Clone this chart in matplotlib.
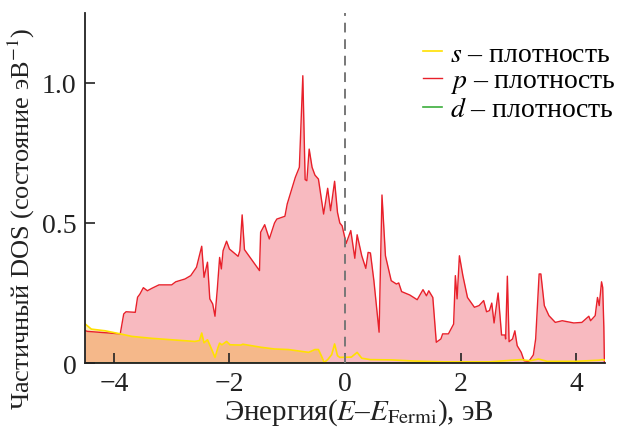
import matplotlib
matplotlib.use('Agg')
import matplotlib.pyplot as plt
import numpy as np

plt.rcParams['font.family'] = ['Liberation Serif', 'DejaVu Serif']
plt.rcParams['mathtext.fontset'] = 'stix'

# p-состояния
p_energy = [-4.50, -4.46, -4.15, -3.89, -3.83, -3.79, -3.72, -3.63, -3.59, -3.55,
            -3.49, -3.42, -3.34, -3.22, -3.00, -2.93, -2.77, -2.67, -2.57, -2.48,
            -2.44, -2.38, -2.34, -2.29, -2.25, -2.21, -2.17, -2.14, -2.11, -2.05,
            -2.00, -1.85, -1.82, -1.78, -1.74, -1.48, -1.46, -1.39, -1.31, -1.22,
            -1.18, -1.04, -1.00, -0.93, -0.86, -0.79, -0.73, -0.69, -0.66, -0.62,
            -0.57, -0.52, -0.46, -0.37, -0.30, -0.25, -0.18, -0.13, -0.09, -0.05,
            0.02, 0.10, 0.17, 0.21, 0.29, 0.36, 0.40, 0.44, 0.50, 0.59,
            0.64, 0.70, 0.80, 0.89, 0.93, 0.98, 1.12, 1.25, 1.35, 1.41,
            1.45, 1.52, 1.58, 1.66, 1.69, 1.79, 1.88, 1.91, 1.94, 1.98,
            2.04, 2.12, 2.24, 2.32, 2.40, 2.45, 2.50, 2.54, 2.58, 2.65,
            2.71, 2.77, 2.78, 2.81, 2.84, 2.90, 2.94, 2.98, 3.05, 3.10,
            3.18, 3.26, 3.30, 3.36, 3.39, 3.45, 3.53, 3.64, 3.76, 3.96,
            4.10, 4.22, 4.25, 4.33, 4.37, 4.40, 4.44, 4.46, 4.48, 4.49]
p_dos = [0.116, 0.113, 0.108, 0.104, 0.175, 0.183, 0.182, 0.181, 0.235, 0.246,
         0.269, 0.258, 0.267, 0.279, 0.279, 0.290, 0.300, 0.312, 0.342, 0.417,
         0.306, 0.360, 0.229, 0.211, 0.167, 0.264, 0.377, 0.336, 0.401, 0.435,
         0.407, 0.381, 0.401, 0.529, 0.405, 0.330, 0.467, 0.494, 0.443, 0.500,
         0.514, 0.524, 0.568, 0.615, 0.663, 0.699, 1.026, 0.655, 0.651, 0.764,
         0.699, 0.671, 0.657, 0.532, 0.624, 0.544, 0.649, 0.538, 0.500, 0.490,
         0.427, 0.473, 0.374, 0.458, 0.383, 0.338, 0.395, 0.393, 0.294, 0.110,
         0.600, 0.383, 0.294, 0.282, 0.286, 0.255, 0.243, 0.226, 0.262, 0.240,
         0.258, 0.234, 0.074, 0.086, 0.104, 0.104, 0.139, 0.312, 0.229, 0.383,
         0.312, 0.234, 0.199, 0.205, 0.223, 0.183, 0.187, 0.214, 0.143, 0.250,
         0.100, 0.100, 0.086, 0.310, 0.076, 0.086, 0.115, 0.062, 0.038, 0.008,
         0.005, 0.029, 0.086, 0.318, 0.318, 0.205, 0.169, 0.145, 0.151, 0.143,
         0.145, 0.167, 0.151, 0.169, 0.234, 0.205, 0.290, 0.270, 0.128, 0.000]

# s-состояния
s_energy = [-4.50, -4.46, -4.39, -4.15, -3.89, -3.69, -3.34, -2.94, -2.60, -2.52,
            -2.48, -2.44, -2.38, -2.31, -2.25, -2.20, -2.17, -2.13, -2.05, -1.99,
            -1.80, -1.77, -1.45, -1.22, -0.98, -0.63, -0.52, -0.46, -0.41, -0.36,
            -0.30, -0.23, -0.18, -0.13, -0.09, 0.11, 0.21, 0.29, 0.44, 0.80,
            1.20, 1.72, 2.50, 2.90, 3.05, 3.20, 3.35, 3.50, 4.00, 4.40,
            4.45, 4.50]
s_dos = [0.140, 0.133, 0.121, 0.115, 0.104, 0.095, 0.088, 0.082, 0.077, 0.080,
         0.107, 0.072, 0.083, 0.050, 0.020, 0.054, 0.071, 0.065, 0.077, 0.065,
         0.064, 0.067, 0.056, 0.050, 0.048, 0.038, 0.048, 0.048, 0.026, 0.002,
         0.012, 0.030, 0.068, 0.026, 0.020, 0.021, 0.038, 0.017, 0.012, 0.011,
         0.007, 0.004, 0.004, 0.010, 0.012, 0.008, 0.014, 0.006, 0.006, 0.010,
         0.012, 0.010]

# d-состояния
d_energy = [-4.50, 4.50]
d_dos = [0.0, 0.0]

x_ticks = [-4, -2, 0, 2, 4]
x_ticklabels = ['\u22124', '\u22122', '0', '2', '4']
y_ticks = [0, 0.5, 1.0]
y_ticklabels = ['0', '0.5', '1.0']

fig = plt.figure(figsize=(6.17, 4.35), dpi=100)
ax = fig.add_axes([85/617, 1 - 364/435, 520/617, 350/435])

ax.fill_between(p_energy, p_dos, 0, color='#f8bac0', lw=0, zorder=1)
s_e = np.array(s_energy)
ax.fill_between(s_e, s_dos, 0, where=s_e <= -0.36, color='#f0b400',
                alpha=0.28, lw=0, zorder=1.2)

ax.plot(d_energy, d_dos, color='#3cae3c', lw=1.2, zorder=1.5,
        label=r'$d$ – плотность')
ax.plot(p_energy, p_dos, color='#e8202a', lw=1.0, zorder=2,
        label=r'$p$ – плотность')
ax.plot(s_energy, s_dos, color='#ffe000', lw=1.2, zorder=2.1,
        label=r'$s$ – плотность')

ax.axvline(0, color='#777777', lw=1.4, dashes=(5, 3.5), zorder=3)

ax.set_xlim(-4.5, 4.5)
ax.set_ylim(0, 1.25)
ax.set_xticks(x_ticks)
ax.set_xticklabels(x_ticklabels)
ax.set_yticks(y_ticks)
ax.set_yticklabels(y_ticklabels)
ax.tick_params(direction='in', length=7, width=1.2, labelsize=20,
               colors='#222222', pad=6)
for side in ['top', 'right']:
    ax.spines[side].set_visible(False)
for side in ['left', 'bottom']:
    ax.spines[side].set_linewidth(1.3)
    ax.spines[side].set_color('#222222')

ax.set_xlabel(r'Энергия($E$–$E_{\mathrm{Fermi}}$), эВ', fontsize=21,
              color='#222222')
ax.xaxis.set_label_coords(0.527, -0.095)
ax.set_ylabel(r'Частичный DOS (состояние эВ$^{-1}$)', fontsize=19,
              color='#222222')
ax.yaxis.set_label_coords(-0.092, 0.415)

handles, labels = ax.get_legend_handles_labels()
order = [2, 1, 0]
ax.legend([handles[i] for i in order], [labels[i] for i in order],
          loc='upper right', bbox_to_anchor=(627/617, 1 - 31/435),
          bbox_transform=fig.transFigure, frameon=False, fontsize=20,
          handlelength=0.7, handletextpad=0.3, labelspacing=0.05,
          borderaxespad=0)

plt.savefig('out.png', dpi=100)
